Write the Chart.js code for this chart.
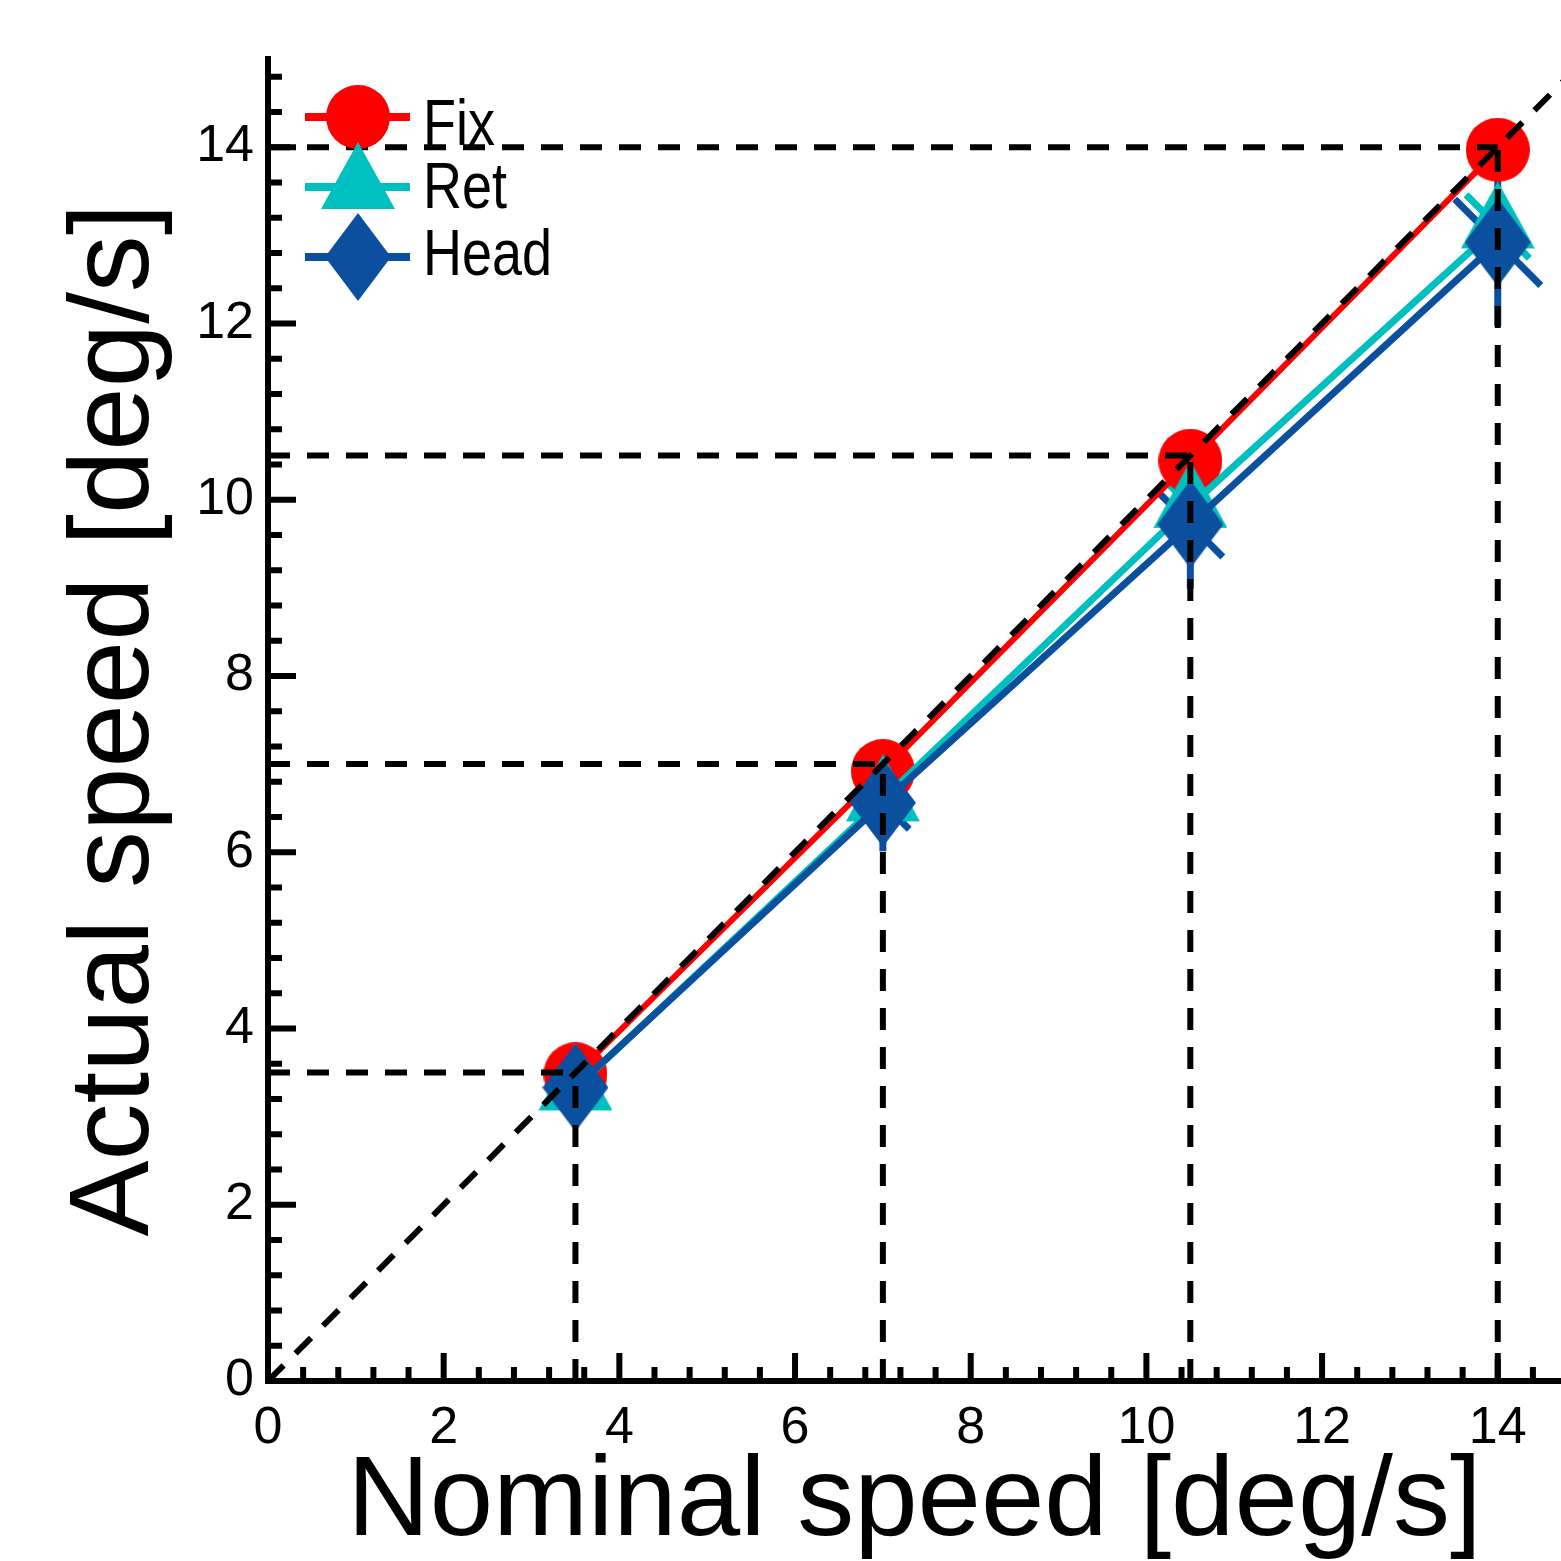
<!DOCTYPE html>
<html>
<head>
<meta charset="utf-8">
<title>Nominal vs actual speed</title>
<script src="https://cdn.jsdelivr.net/npm/chart.js@4.4.1/dist/chart.umd.min.js"></script>
<style>
  html, body { margin: 0; padding: 0; background: #fff; }
  #wrap { width: 1561px; height: 1561px; }
</style>
</head>
<body>
<div id="wrap"><canvas id="chart" width="1561" height="1561"></canvas></div>
<script>
// values (deg/s)
const nominal = [3.5, 7, 10.5, 14];
const fixSpeed = [3.48, 6.92, 10.44, 13.97];
const retSpeed = [3.32, 6.60, 9.93, 13.10];
const headSpeed = [3.33, 6.56, 9.72, 12.92];

// error segments: vertical and diagonal (perpendicular to identity line)
const headErrY = [0.2, 0.55, 0.73, 0.95];
const headErrD = [0.15, 0.3, 0.37, 0.49];
const retErrD = [0.12, 0.22, 0.28, 0.36];

const identity = [0, 15];
const xMax = 14.72;
const yMax = 15;
const minorStep = 0.4;
const majorEvery = 5;

const RED = '#ff0000';
const CYAN = '#00bfbf';
const BLUE = '#0b4f9f';

Chart.defaults.font.family = "'Liberation Sans', Arial, sans-serif";
Chart.defaults.color = '#000';

// marker images so the triangle / diamond keep the figure's proportions
function markerCanvas(kind, color) {
  const c = document.createElement('canvas');
  let w, h;
  if (kind === 'circle') { w = 64; h = 64; }
  else if (kind === 'triangle') { w = 74; h = 90; }
  else { w = 66; h = 88; }
  c.width = w; c.height = h;
  const g = c.getContext('2d');
  g.fillStyle = color;
  g.beginPath();
  if (kind === 'circle') {
    g.arc(32, 32, 32, 0, Math.PI * 2);
  } else if (kind === 'triangle') {
    g.moveTo(37, 0); g.lineTo(74, 67); g.lineTo(0, 67); g.closePath();
  } else {
    g.moveTo(33, 0); g.lineTo(66, 44); g.lineTo(33, 88); g.lineTo(0, 44); g.closePath();
  }
  g.fill();
  return c;
}

const fixMarker = markerCanvas('circle', RED);
const retMarker = markerCanvas('triangle', CYAN);
const headMarker = markerCanvas('diamond', BLUE);

function pts(ys) {
  return nominal.map((x, i) => ({ x: x, y: ys[i] }));
}

const dashStyle = {
  borderColor: '#000',
  borderWidth: 6,
  borderDash: [22, 17],
  pointRadius: 0,
  fill: false,
  order: 0
};

const refSets = [];
nominal.forEach(v => {
  refSets.push(Object.assign({ label: 'h' + v, data: [{ x: 0, y: v }, { x: v, y: v }] }, dashStyle));
  refSets.push(Object.assign({ label: 'v' + v, data: [{ x: v, y: 0 }, { x: v, y: v }] }, dashStyle));
});
refSets.push(Object.assign({
  label: 'identity',
  data: [{ x: identity[0], y: identity[0] }, { x: identity[1], y: identity[1] }]
}, dashStyle));

const dataSets = [
  { label: 'Fix', data: pts(fixSpeed), borderColor: RED, backgroundColor: RED,
    borderWidth: 6, pointStyle: fixMarker, pointRadius: 32, order: 3, marker: fixMarker },
  { label: 'Ret', data: pts(retSpeed), borderColor: CYAN, backgroundColor: CYAN,
    borderWidth: 7, pointStyle: retMarker, pointRadius: 36, order: 2, marker: retMarker },
  { label: 'Head', data: pts(headSpeed), borderColor: BLUE, backgroundColor: BLUE,
    borderWidth: 7, pointStyle: headMarker, pointRadius: 34, order: 1, marker: headMarker }
];

const errorBars = {
  id: 'errorBars',
  beforeDatasetsDraw(chart) {
    const { ctx, scales: { x, y } } = chart;
    ctx.save();
    ctx.lineWidth = 7;
    const seg = (x1, y1, x2, y2) => {
      ctx.beginPath();
      ctx.moveTo(x.getPixelForValue(x1), y.getPixelForValue(y1));
      ctx.lineTo(x.getPixelForValue(x2), y.getPixelForValue(y2));
      ctx.stroke();
    };
    ctx.strokeStyle = CYAN;
    nominal.forEach((v, i) => {
      const e = retErrD[i];
      seg(v - e, retSpeed[i] + e, v + e, retSpeed[i] - e);
    });
    ctx.strokeStyle = BLUE;
    nominal.forEach((v, i) => {
      const e = headErrD[i];
      seg(v - e, headSpeed[i] + e, v + e, headSpeed[i] - e);
      seg(v, headSpeed[i] - headErrY[i], v, headSpeed[i] + headErrY[i]);
    });
    ctx.restore();
  }
};

const axesAndTicks = {
  id: 'axesAndTicks',
  afterDraw(chart) {
    const { ctx, chartArea: a, scales: { x, y } } = chart;
    ctx.save();
    ctx.strokeStyle = '#000';
    ctx.lineWidth = 6;
    ctx.beginPath();
    ctx.moveTo(a.left, a.top - 3);
    ctx.lineTo(a.left, a.bottom + 3);
    ctx.moveTo(a.left - 3, a.bottom);
    ctx.lineTo(a.right, a.bottom);
    ctx.stroke();
    ctx.beginPath();
    for (let i = 1; i * minorStep <= xMax + 1e-9; i++) {
      const px = x.getPixelForValue(i * minorStep);
      const len = i % majorEvery === 0 ? 28 : 14;
      ctx.moveTo(px, a.bottom);
      ctx.lineTo(px, a.bottom - len);
    }
    for (let i = 1; i * minorStep <= yMax + 1e-9; i++) {
      const py = y.getPixelForValue(i * minorStep);
      const len = i % majorEvery === 0 ? 28 : 14;
      ctx.moveTo(a.left, py);
      ctx.lineTo(a.left + len, py);
    }
    ctx.stroke();
    ctx.restore();
  }
};

const boxLegend = {
  id: 'boxLegend',
  afterDraw(chart) {
    const { ctx } = chart;
    const rows = [117, 187, 257];
    const baselines = [145, 208, 275];
    ctx.save();
    dataSets.forEach((ds, i) => {
      ctx.strokeStyle = ds.borderColor;
      ctx.lineWidth = 8;
      ctx.beginPath();
      ctx.moveTo(305, rows[i]);
      ctx.lineTo(410, rows[i]);
      ctx.stroke();
      const m = ds.marker;
      ctx.drawImage(m, 358 - m.width / 2, rows[i] - m.height / 2);
      ctx.save();
      ctx.translate(423, baselines[i]);
      ctx.scale(1, 1.2);
      ctx.fillStyle = '#000';
      ctx.font = "54px 'Liberation Sans', Arial, sans-serif";
      ctx.textBaseline = 'alphabetic';
      ctx.fillText(ds.label, 0, 0);
      ctx.restore();
    });
    ctx.restore();
  }
};

new Chart(document.getElementById('chart'), {
  type: 'line',
  data: { datasets: dataSets.concat(refSets) },
  options: {
    responsive: false,
    animation: false,
    layout: { autoPadding: false, padding: { top: 59, right: 0, left: 0, bottom: 0 } },
    plugins: {
      legend: { display: false },
      tooltip: { enabled: false }
    },
    scales: {
      x: {
        type: 'linear',
        min: 0,
        max: xMax,
        grid: { display: false, drawTicks: false },
        border: { display: false },
        ticks: { stepSize: 2, includeBounds: false, font: { size: 52 }, padding: 16, maxRotation: 0, autoSkip: false },
        title: { display: true, text: 'Nominal speed [deg/s]', font: { size: 114, lineHeight: 1 }, padding: { top: 0, bottom: 0 } },
        afterFit(s) { s.height = 180; s.paddingLeft = 0; s.paddingRight = 0; }
      },
      y: {
        type: 'linear',
        min: 0,
        max: yMax,
        grid: { display: false, drawTicks: false },
        border: { display: false },
        ticks: { stepSize: 2, includeBounds: false, font: { size: 52 }, padding: 14, autoSkip: false },
        title: { display: true, text: 'Actual speed [deg/s]', font: { size: 114, lineHeight: 1 }, padding: { top: 60, bottom: 0 } },
        afterFit(s) { s.width = 268; s.paddingTop = 0; s.paddingBottom = 0; }
      }
    }
  },
  plugins: [errorBars, axesAndTicks, boxLegend]
});
</script>
</body>
</html>
